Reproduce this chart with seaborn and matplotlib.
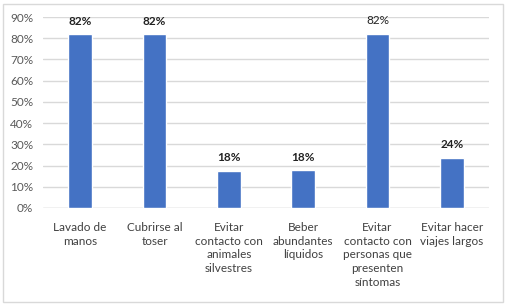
import pandas as pd
import numpy as np
import matplotlib.pyplot as plt
import seaborn as sns
from matplotlib.patches import FancyBboxPatch

# data
categories = ["Lavado de\nmanos", "Cubrirse al\ntoser", "Evitar\ncontacto con\nanimales\nsilvestres",
              "Beber\nabundantes\nlíquidos", "Evitar\ncontacto con\npersonas que\npresenten\nsíntomas",
              "Evitar hacer\nviajes largos"]
values = [0.82, 0.82, 0.176, 0.178, 0.822, 0.236]
bold_labels = [True, True, True, True, False, True]

df = pd.DataFrame({"cat": categories, "val": values})

sns.set_style("white")
plt.rcParams['font.family'] = ['Lato', 'DejaVu Sans']

fig = plt.figure(figsize=(5.07, 3.05), dpi=100)
ax = fig.add_axes([43/507, 1-208/305, 446/507, (208-17)/305])

sns.barplot(df, x="cat", y="val", color="#4472C4", width=0.32, saturation=1, ax=ax, zorder=3)

ax.set_ylim(0, 0.9)
ax.set_xlim(-0.5, len(categories)-0.5)
ax.set_yticks(np.arange(0, 0.91, 0.1))
ax.set_yticklabels([f"{int(round(t*100))}%" for t in np.arange(0, 0.91, 0.1)])
ax.yaxis.grid(True, color="#d9d9d9", linewidth=1, zorder=0)
for s in ax.spines.values():
    s.set_visible(False)
ax.axhline(0, color="#d9d9d9", linewidth=1, zorder=1)
ax.tick_params(axis="y", length=0, labelsize=8.5, labelcolor="#595959", pad=7)
ax.tick_params(axis="x", length=0, labelsize=8.5, labelcolor="#404040", pad=10)
for lbl in ax.get_xticklabels():
    lbl.set_linespacing(1.3)
    lbl.set_verticalalignment("top")
ax.set_xlabel("")
ax.set_ylabel("")

for i, (v, b) in enumerate(zip(values, bold_labels)):
    ax.text(i, v + 0.035, f"{v:.0%}", ha="center", va="bottom", fontsize=8.5,
            fontweight="bold" if b else "normal", color="#222222")

# outer chart frame
fig.patches.append(FancyBboxPatch((3/507, 3/305), 500/507, 298/305,
                                  boxstyle="square,pad=0", transform=fig.transFigure,
                                  facecolor="none", edgecolor="#d9d9d9", linewidth=1))

fig.savefig("out.png", dpi=100)
